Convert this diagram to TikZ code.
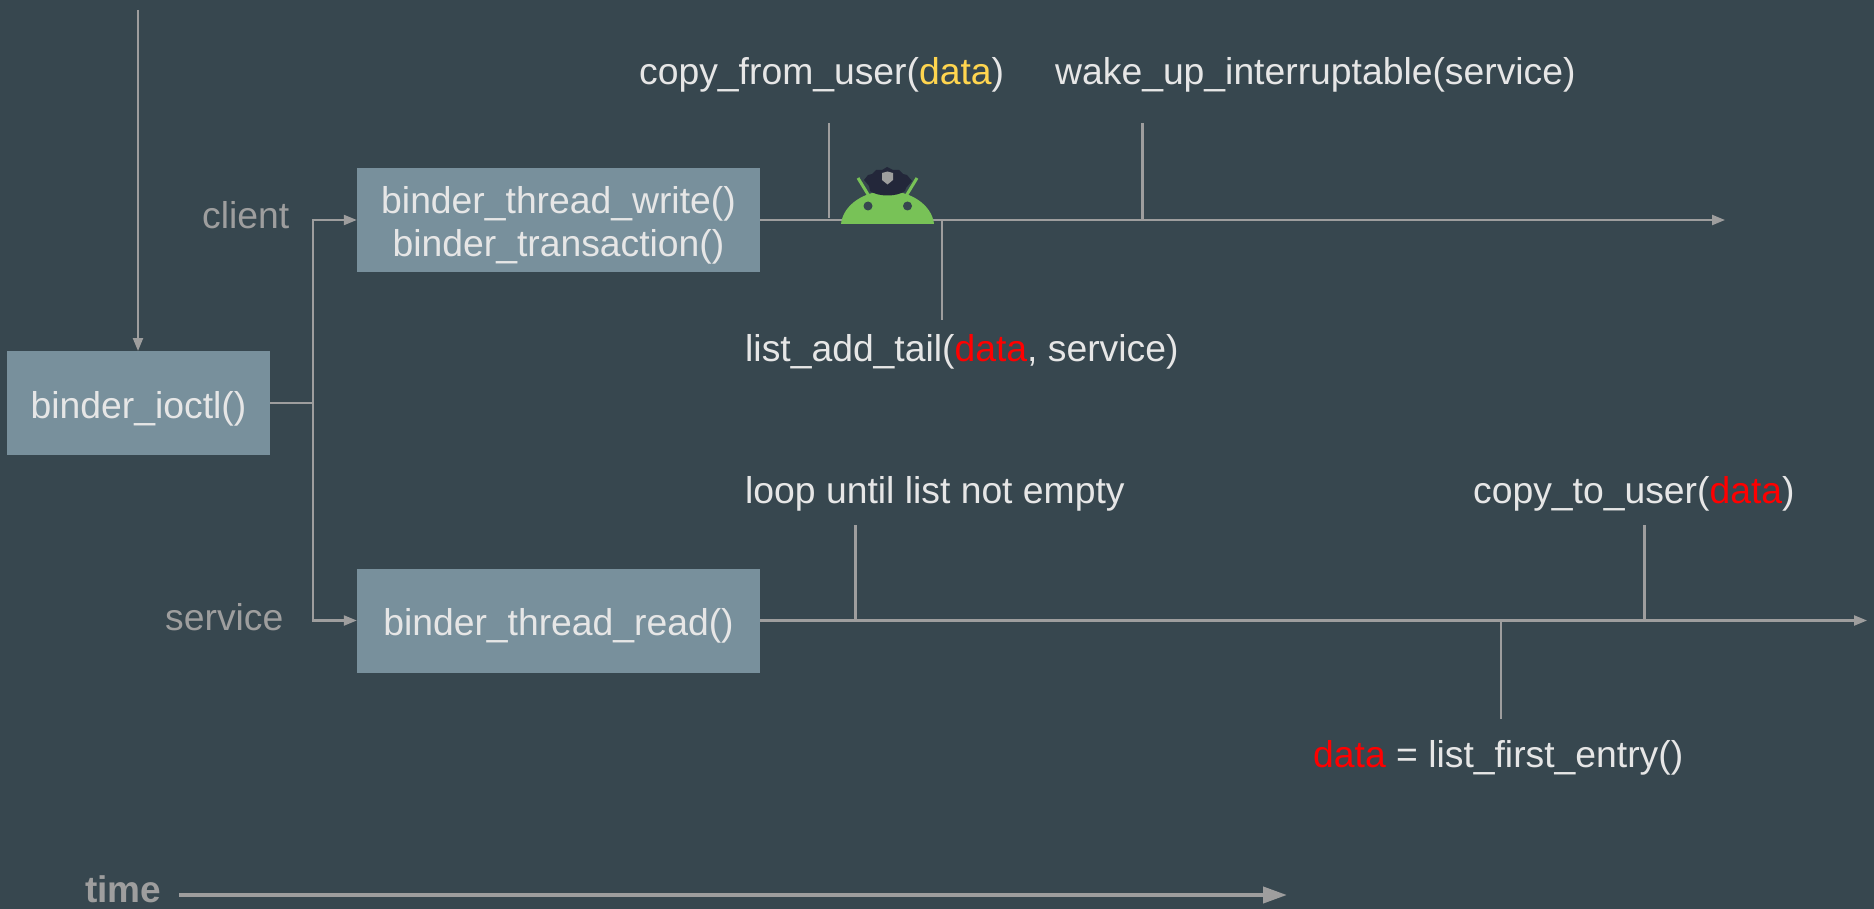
\documentclass[tikz,border=0pt]{standalone}
\usepackage{fontspec}
\setmainfont{Liberation Sans}
\usetikzlibrary{arrows.meta,calc}
\definecolor{bg}{HTML}{37474F}
\definecolor{boxc}{HTML}{78909C}
\definecolor{linec}{HTML}{9E9E9E}
\definecolor{txt}{HTML}{E6E6E6}
\definecolor{yel}{HTML}{FFD54F}
\definecolor{redd}{HTML}{FF0000}
\definecolor{droid}{HTML}{78C257}
\definecolor{hat}{HTML}{23273A}
\newcommand{\fs}{\fontsize{37.3}{42}\selectfont}
\newcommand{\dn}[1]{\raisebox{-5.5pt}[\height][\depth]{#1}}
\tikzset{
 fbox/.style={fill=boxc,inner sep=0,align=center,text=txt,font=\fs},
 lbl/.style={inner sep=0,anchor=base west,text=txt,font=\fs},
 side/.style={inner sep=0,anchor=base west,text=linec,font=\fs},
 wire/.style={draw=linec,line width=2.2pt},
 arr/.style={wire,-{Triangle[length=13pt,width=10pt]}},
}
\begin{document}
\begin{tikzpicture}[x=1pt,y=-1pt]
\fill[bg] (0,0) rectangle (1874,909);
\useasboundingbox (0,0) rectangle (1874,909);
% boxes
\node[fbox,minimum width=263pt,minimum height=104pt] (ioctl) at (138.5,403) {\dn{binder\_ioctl()}};
\node[fbox,minimum width=403pt,minimum height=104pt] (write) at (558.5,220) {\dn{binder\_thread\_write()}\\[1pt]\dn{binder\_transaction()}};
\node[fbox,minimum width=403pt,minimum height=104pt] (read) at (558.5,620.5) {\dn{binder\_thread\_read()}};
% free ends
\coordinate (top) at (138,10);
\coordinate (fork) at (313,403);
\coordinate (wend) at (1725,220);
\coordinate (rend) at (1867,620.5);
\draw[arr] (top) -- (138,351);
\draw[wire] (ioctl.east) -- (fork);
\draw[arr] (fork) |- (write.west);
\draw[arr] (fork) |- (read.west);
\draw[arr] (write.east) -- (wend);
\draw[arr] (read.east) -- (rend);
% ticks
\coordinate (t1a) at (829,123); \coordinate (t1b) at (829,218);
\coordinate (t2a) at (1142.5,123); \coordinate (t2b) at (1142.5,220);
\coordinate (t3a) at (942,220); \coordinate (t3b) at (942,320);
\coordinate (t4a) at (855.5,525); \coordinate (t4b) at (855.5,620);
\coordinate (t5a) at (1644.5,525); \coordinate (t5b) at (1644.5,620);
\coordinate (t6a) at (1501,620); \coordinate (t6b) at (1501,719);
\foreach \k in {1,...,6} \draw[wire] (t\k a) -- (t\k b);
% labels
\node[lbl] (l1) at (639,84.5) {copy\_from\_user({\color{yel}data})};
\node[lbl] (l2) at (1055,84.5) {wake\_up\_interruptable(service)};
\node[lbl] (l3) at (745,361) {list\_add\_tail({\color{redd}data}, service)};
\node[lbl] (l4) at (745,503) {loop until list not empty};
\node[lbl] (l5) at (1473,503) {copy\_to\_user({\color{redd}data})};
\node[lbl] (l6) at (1313,767.5) {{\color{redd}data} = list\_first\_entry()};
\node[side] (c) at (202,229) {client};
\node[side] (s) at (165,630) {service};
% time
\node[inner sep=0,anchor=base west,text=linec,font=\fontsize{37}{42}\selectfont\bfseries] (time) at (85,902) {time};
\coordinate (tend) at (1287,895);
\draw[draw=linec,line width=4pt,-{Triangle[length=24pt,width=16pt]}] (179,895) -- (tend);
% android
\begin{scope}
\draw[droid,line width=3pt] (858,178) -- (872,201);
\draw[droid,line width=3pt] (917,178) -- (903,201);
\fill[droid] (841,224) .. controls (843,205) and (864,191) .. (887.5,191) .. controls (911,191) and (932,205) .. (934,224) -- cycle;
\fill[bg] (868,206) circle (4.5pt);
\fill[bg] (907.5,206) circle (4.5pt);
\fill[hat] (864,180) -- (868,175) -- (872,174) -- (876,170) -- (882,170) -- (887,167) -- (893,170) -- (899,170) -- (903,174) -- (907,175) -- (912,181) -- (906,188) -- (905,191) .. controls (897,197) and (878,197) .. (870,191) -- (869,186) -- cycle;
\fill[linec] (882,173) -- (887.5,171.5) -- (893,173) -- (893,180) -- (887.5,184.5) -- (882,180) -- cycle;
\end{scope}
\end{tikzpicture}
\end{document}
